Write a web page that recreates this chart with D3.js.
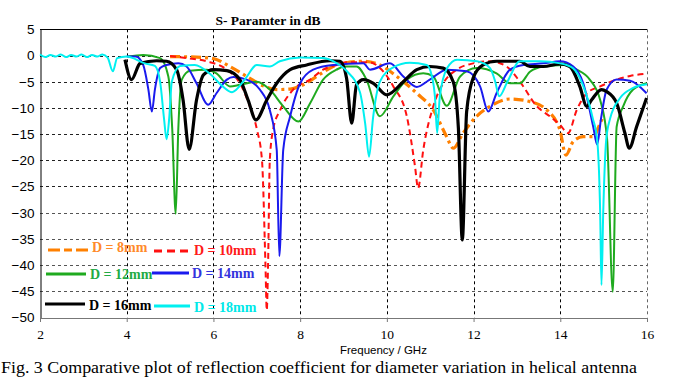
<!DOCTYPE html>
<html><head><meta charset="utf-8">
<script src="https://cdn.jsdelivr.net/npm/d3@7"></script>
<style>body{margin:0;background:#fff}svg{display:block}</style>
</head><body>
<script>
// ---- data ----
const xTicks = [2,4,6,8,10,12,14,16];
const yTicks = [5,0,-5,-10,-15,-20,-25,-30,-35,-40,-45,-50];

const d8Freq = [5.0,5.61,6.0,6.38,6.77,7.15,7.46,7.77,8.07,8.38,8.76,9.0,9.46,9.84,10.23,10.69,11.07,11.38,11.53,11.76,12.07,12.38,12.84,13.3,13.69,13.99,14.13,14.3,14.53,14.76,14.92,15.0];
const d8Vals = [-0.2,-0.3,-0.6,-2.1,-4.0,-5.8,-6.5,-6.4,-5.6,-4.0,-2.1,-1.5,-1.1,-1.8,-4.0,-7.2,-10.4,-15.5,-17.7,-14.8,-11.6,-9.7,-8.3,-8.8,-10.4,-14.2,-19.0,-16.4,-15.5,-15.5,-12.9,-11.5];

const d10Freq = [5.0,5.38,5.84,6.31,6.61,6.84,7.0,7.12,7.2,7.23,7.26,7.3,7.38,7.54,7.84,8.23,8.53,8.84,9.07,9.61,9.84,10.15,10.46,10.65,10.72,10.84,11.07,11.3,11.61,11.99,12.38,12.76,13.07,13.46,13.76,13.99,14.18,14.38,14.61,14.92,15.3,15.61,15.99];
const d10Vals = [-0.1,-0.5,-1.1,-2.7,-5.3,-9.7,-14,-20,-40,-48.6,-40,-20,-14,-10.4,-6.5,-4.6,-2.7,-1.8,-1.3,-1.3,-2.4,-5.9,-11.6,-21.2,-25.3,-18,-9.7,-5.3,-2.7,-1.5,-1.1,-2.1,-5.0,-9.7,-11.6,-13.2,-14.8,-10.4,-7.2,-5.9,-4.6,-3.9,-3.5];

const d12Freq = [4.03,4.38,4.77,4.96,5.05,5.13,5.19,5.27,5.46,5.84,6.07,6.38,6.61,7.0,7.3,7.61,7.96,8.23,8.53,8.84,9.03,9.3,9.53,9.84,10.15,10.46,10.84,11.07,11.38,11.69,12.07,12.53,12.84,13.07,13.3,13.61,14.07,14.38,14.68,14.92,15.08,15.21,15.3,15.45,15.68,15.99];
const d12Vals = [-0.2,0.1,-0.5,-4.0,-14,-30.2,-14,-4.6,-2.9,-2.7,-3.4,-5.9,-5.6,-5.0,-6.5,-9.7,-12.6,-9.1,-4.6,-2.7,-2.1,-2.1,-4.6,-11.6,-7.8,-4.6,-3.4,-4.0,-9.6,-4.0,-2.4,-3.4,-5.3,-5.3,-3.1,-2.1,-1.8,-2.7,-4.6,-8.5,-16,-45.1,-13.6,-9.7,-6.5,-5.3];

const d14Freq = [4.0,4.21,4.38,4.5,4.58,4.65,4.77,4.92,5.19,5.38,5.61,5.88,6.07,6.31,6.46,6.77,7.07,7.3,7.46,7.52,7.61,7.77,8.0,8.3,8.76,9.46,9.61,10.07,10.38,10.69,10.99,11.38,11.84,12.15,12.34,12.53,12.84,13.15,13.61,13.99,14.3,14.53,14.76,14.85,14.94,15.07,15.3,15.61,15.99];
const d14Vals = [-0.2,-0.2,-1.8,-6.5,-10.7,-6.5,-2.4,-1.8,-1.5,-2.1,-5.3,-9.4,-7.2,-4.6,-4.1,-4.6,-6.5,-10.4,-18,-38.3,-18,-11.6,-5.3,-2.7,-1.8,-1.5,-2.7,-1.5,-4.0,-6.0,-4.6,-2.7,-3.0,-5.9,-10.7,-7.2,-2.7,-1.8,-1.5,-1.1,-2.1,-5.3,-13.6,-17,-12,-6.5,-4.6,-4.8,-7.2];

const d16Freq = [3.96,4.11,4.31,4.69,4.92,5.15,5.3,5.44,5.61,5.77,6.0,6.31,6.61,6.8,6.98,7.23,7.46,7.77,8.15,8.69,8.92,9.07,9.19,9.3,9.46,9.69,10.0,10.38,10.69,10.99,11.3,11.53,11.65,11.74,11.84,11.99,12.22,12.53,13.07,13.3,13.61,13.99,14.22,14.45,14.61,14.72,14.95,15.07,15.3,15.49,15.59,15.76,15.99];
const d16Vals = [-0.8,-4.6,-1.5,-1.0,-1.1,-2.7,-8.5,-17.9,-8.5,-3.7,-2.7,-2.9,-4.6,-8.5,-12.3,-8.5,-5.3,-2.7,-1.8,-1.0,-1.1,-4.3,-12.9,-5.6,-4.6,-5.3,-7.5,-5.0,-2.7,-2.1,-2.4,-5.0,-13.9,-35.2,-10.7,-4.3,-1.8,-1.1,-1.1,-2.1,-2.1,-1.6,-2.1,-5.9,-9.7,-8.5,-6.5,-6.9,-9.1,-14.8,-17.7,-13.6,-8.1];

const d18Freq = [2.0,2.12,2.24,2.36,2.48,2.6,2.72,2.84,2.96,3.08,3.2,3.32,3.44,3.56,3.68,3.78,4.0,4.42,4.65,4.77,4.86,4.92,4.98,5.04,5.23,5.57,5.92,6.2,6.43,6.73,7.0,7.3,7.53,8.0,8.53,8.85,9.08,9.38,9.5,9.59,9.68,9.84,10.14,10.53,10.92,11.04,11.11,11.16,11.22,11.39,11.62,12.08,12.38,12.5,12.59,12.78,13.07,13.53,14.0,14.29,14.52,14.75,14.85,14.92,14.95,14.99,15.06,15.15,15.38,15.68,16.0];
const d18Vals = [0.2,-0.3,0.1,-0.2,0.2,-0.3,0.1,-0.2,0.2,-0.3,0.1,-0.2,0.2,-0.4,-3.0,-0.5,-0.2,-1.5,-2.0,-5,-12,-16,-12,-5,-2.0,-1.8,-3.5,-5.8,-7.0,-4.5,-1.8,-2.1,-1.1,-0.4,-0.5,-1.5,-3.0,-7.0,-13,-19.3,-12,-5,-2.3,-1.4,-1.8,-4,-8,-14.8,-8,-2.4,-0.8,-1.1,-2.4,-5,-7.8,-5,-1.1,-1.1,-1.5,-2.4,-5.6,-12,-16,-30,-43.8,-30,-16,-12,-8.1,-6.2,-5.5];

const seriesNames = ["D = 8mm","D = 10mm","D = 12mm","D = 14mm","D = 16mm","D = 18mm"];
const seriesFreqs = [d8Freq,d10Freq,d12Freq,d14Freq,d16Freq,d18Freq];
const seriesVals = [d8Vals,d10Vals,d12Vals,d14Vals,d16Vals,d18Vals];

// ---- styles ----
const styles = [
  {color:"#ff8000", width:3.2, dash:"10,4,3,4"},
  {color:"#ff1010", width:2, dash:"6,4"},
  {color:"#1faa1f", width:2, dash:null},
  {color:"#1a1aee", width:2, dash:null},
  {color:"#000000", width:3.2, dash:null},
  {color:"#00f0f0", width:2, dash:null}
];
const legendPos = [
  {x1:48,x2:90,y:250,tx:92,ty:252,tc:"#ff8a2a"},
  {x1:154,x2:190,y:251,tx:194,ty:255,tc:"#ff1a1a"},
  {x1:46,x2:86,y:274,tx:90,ty:279,tc:"#22aa44"},
  {x1:152,x2:189,y:273,tx:192,ty:278,tc:"#3333dd"},
  {x1:45,x2:85,y:304,tx:89,ty:310,tc:"#000000"},
  {x1:154,x2:190,y:306,tx:194,ty:312,tc:"#00e8e8"}
];

const W=673,H=389;
const svg=d3.select("body").append("svg").attr("width",W).attr("height",H);
const x=d3.scaleLinear().domain([2,16]).range([40,647]);
const y=d3.scaleLinear().domain([-50,5]).range([317.5,29.3]);

// grid
const g=svg.append("g");
g.selectAll(".hg").data(yTicks.filter(v=>v<5 && v>-50)).enter().append("line")
 .attr("x1",40).attr("x2",647).attr("y1",d=>Math.round(y(d))+0.5).attr("y2",d=>Math.round(y(d))+0.5)
 .attr("stroke",(d)=>d>=-25?"#222":"#555").attr("stroke-width",1).attr("stroke-dasharray","3,3");
g.selectAll(".vg").data(xTicks.filter(v=>v>2 && v<16)).enter().append("line")
 .attr("y1",29.3).attr("y2",317.5).attr("x1",d=>Math.round(x(d))+0.5).attr("x2",d=>Math.round(x(d))+0.5)
 .attr("stroke","#000").attr("stroke-width",1).attr("stroke-dasharray","3,3");
// right border dashed
svg.append("line").attr("x1",647.5).attr("x2",647.5).attr("y1",29.3).attr("y2",317.5)
 .attr("stroke","#666").attr("stroke-dasharray","3,3");
// bottom axis
const xAxis=d3.axisBottom(x).tickValues(xTicks).tickSize(4).tickFormat(d3.format("d"));
const xa=svg.append("g").attr("transform","translate(0,318)").call(xAxis);
xa.select(".domain").attr("stroke","#777");
xa.selectAll(".tick line").attr("stroke","#777");
xa.selectAll("text").attr("font-family","'Liberation Serif','Times New Roman',serif").attr("font-size",13.5).attr("fill","#000").attr("dy","1.05em");
// left axis
const yAxis=d3.axisLeft(y).tickValues(yTicks).tickSize(0).tickPadding(6);
const ya=svg.append("g").attr("transform","translate(40.5,0)").call(yAxis);
ya.select(".domain").attr("stroke","#000");
ya.selectAll("text").attr("font-family","'Liberation Sans',Arial,sans-serif").attr("font-size",13.5).attr("fill","#000");
// top line
svg.append("line").attr("x1",40).attr("x2",647).attr("y1",29.5).attr("y2",29.5).attr("stroke","#000");

// curves
const line=d3.line().x(d=>x(d[0])).y(d=>y(d[1])).curve(d3.curveMonotoneX);
[0,1,2,3,4,5].forEach(i=>{
  const pts=seriesFreqs[i].map((f,k)=>[f,seriesVals[i][k]]);
  svg.append("path").datum(pts).attr("d",line).attr("fill","none")
   .attr("stroke",styles[i].color).attr("stroke-width",styles[i].width)
   .attr("stroke-dasharray",styles[i].dash).attr("stroke-linejoin","round");
});

// legend
seriesNames.forEach((n,i)=>{
  const p=legendPos[i];
  svg.append("line").attr("x1",p.x1).attr("x2",p.x2).attr("y1",p.y).attr("y2",p.y)
   .attr("stroke",styles[i].color).attr("stroke-width",3).attr("stroke-dasharray",styles[i].dash?(i===0?"12,4,8,4":"8,5"):null);
  svg.append("text").attr("x",p.tx).attr("y",p.ty).text(n)
   .attr("font-family","'Liberation Serif','Times New Roman',serif").attr("font-weight","bold")
   .attr("font-size",14).attr("fill",p.tc);
});

// title
svg.append("text").attr("x",268).attr("y",24.5).attr("text-anchor","middle").text("S- Paramter in dB")
 .attr("font-family","'Liberation Serif','Times New Roman',serif").attr("font-weight","bold").attr("font-size",13.5);
// x label
svg.append("text").attr("x",340).attr("y",353.5).text("Frequency / GHz")
 .attr("font-family","'Liberation Sans',Arial,sans-serif").attr("font-size",11.5);
// caption
svg.append("text").attr("x",1).attr("y",373).text("Fig. 3 Comparative plot of reflection coefficient for diameter variation in helical antenna")
 .attr("font-family","'Liberation Serif','Times New Roman',serif").attr("font-size",16.5)
 .attr("textLength",636).attr("lengthAdjust","spacingAndGlyphs");
</script>
</body></html>
